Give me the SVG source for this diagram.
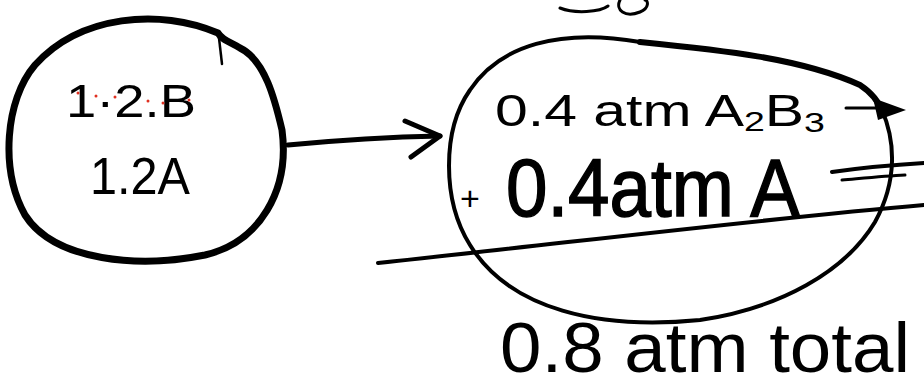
<svg xmlns="http://www.w3.org/2000/svg" width="924" height="389" viewBox="0 0 924 389">
<style>
.ink{fill:none;stroke:#000;stroke-linecap:round;stroke-linejoin:round}
.t{font-family:"Liberation Sans",Arial,sans-serif;fill:#000}
</style>
<rect width="924" height="389" fill="#fff"/>
<g id="node-left">
<path class="ink" stroke-width="7" d="M218,33 C160,8 80,15 35,65 C5,100 0,170 25,215 C55,262 140,268 205,255 C260,242 290,190 282,130 C275,100 265,60 240,48 C230,42 222,40 218,33 Z"/>
<path class="ink" stroke-width="2.5" d="M219,38 L222,64"/>
<text class="t" x="66" y="117" font-size="46" textLength="130" lengthAdjust="spacingAndGlyphs">1·2.B</text>
<g fill="#e03020"><circle cx="78" cy="93" r="1.5"/><circle cx="96" cy="96" r="1.5"/><circle cx="115" cy="97" r="1.5"/><circle cx="148" cy="101" r="1.5"/><circle cx="163" cy="103" r="1.5"/><circle cx="189" cy="100" r="1.5"/></g>
<text class="t" x="90" y="194" font-size="52" textLength="100" lengthAdjust="spacingAndGlyphs">1.2A</text>
</g>
<g id="node-right">
<path class="ink" stroke-width="4" d="M640,42 C560,28 500,45 470,90 C442,130 442,200 470,245 C510,310 600,330 700,320 C780,308 845,272 875,222 C898,180 895,140 882,110"/>
<path class="ink" stroke-width="6" d="M640,42 C720,50 800,58 860,85 C875,95 880,105 882,112"/>
<path class="ink" stroke-width="3" d="M560,8 C575,14 600,12 608,6 M620,0 C615,10 625,18 640,12 C650,8 648,0 645,0"/>
<text class="t" x="495" y="126" font-size="44" textLength="330" lengthAdjust="spacingAndGlyphs">0.4 atm A<tspan font-size="28" dy="5">2</tspan><tspan dy="-5">B</tspan><tspan font-size="28" dy="6">3</tspan></text>
<text class="t" x="460" y="210" font-size="34">+</text>
<text class="t" x="506" y="216" font-size="82" textLength="294" lengthAdjust="spacingAndGlyphs" stroke="#000" stroke-width="1.5">0.4atm A</text>
<text class="t" x="500" y="372" font-size="70" textLength="410" lengthAdjust="spacingAndGlyphs">0.8 atm total</text>
</g>
<g id="connectors">
<path class="ink" stroke-width="5" d="M288,145 C340,140 390,137 440,136"/>
<path class="ink" stroke-width="5" d="M405,121 L440,136 L411,157"/>
<path class="ink" stroke-width="3" d="M846,108 L880,108"/>
<path d="M873,98 L906,110 L878,120 Z" fill="#000"/>
<path class="ink" stroke-width="4" d="M832,172 C860,168 890,165 924,163"/>
<path class="ink" stroke-width="3" d="M842,180 C865,178 885,176 905,175"/>
<path class="ink" stroke-width="4" d="M378,263 C550,245 750,220 924,205"/>
</g>
</svg>
